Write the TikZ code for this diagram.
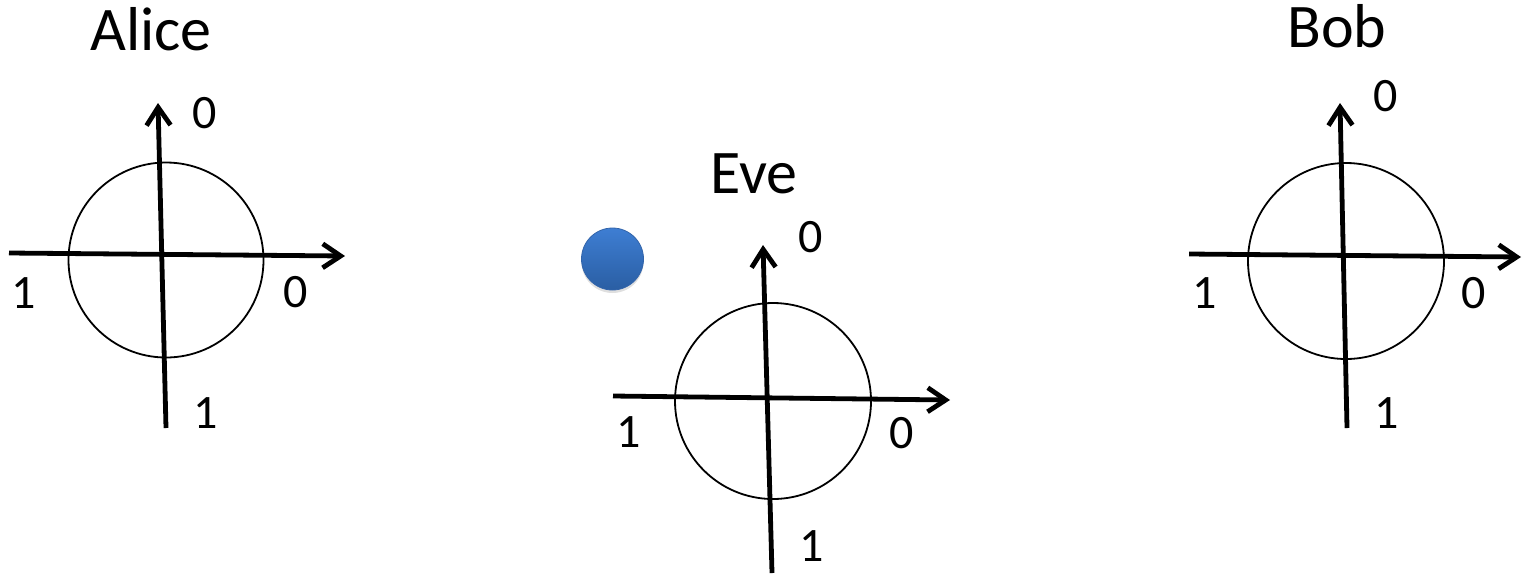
\documentclass[tikz,border=0pt]{standalone}
\usepackage{fontspec}
\setmainfont{Carlito}
\usetikzlibrary{arrows.meta,shadows}

\tikzset{
  axis/.style={line width=2.4pt,-{Straight Barb[length=9pt,width=12pt]}},
  ring/.style={line width=.9pt},
  who/.style={anchor=base,font=\fontsize{31}{36}\selectfont},
  bit/.style={inner sep=1pt,font=\fontsize{24}{28}\selectfont},
}

\begin{document}
\begin{tikzpicture}[x=.5pt,y=-.5pt]
 \useasboundingbox (0,0) rectangle (1524,574);
 % Alice
 \node[who] (alice) at (151,50) {Alice};
 \draw[ring] (166,260) circle (97.5);
 \coordinate (aW) at (9,253);   \coordinate (aE) at (345,256);
 \coordinate (aS) at (166,428); \coordinate (aN) at (158,103);
 \draw[axis] (aW)--(aE);
 \draw[axis] (aS)--(aN);
 \node[bit] (a0n) at (205,113) {0};
 \node[bit] (a1w) at (24,293) {1};
 \node[bit] (a0e) at (296,292) {0};
 \node[bit] (a1s) at (206,413) {1};
 % Eve
 \node[who] (eve) at (754,193) {Eve};
 \node[circle,minimum size=31pt,inner sep=0pt,top color={rgb,255:red,62;green,126;blue,211},
   bottom color={rgb,255:red,42;green,94;blue,163},draw={rgb,255:red,50;green,100;blue,170},
   drop shadow={shadow xshift=0pt,shadow yshift=-1.5pt,opacity=.25}] (photon) at (612.5,259) {};
 \draw[ring] (773,401) circle (98);
 \coordinate (eW) at (613,396); \coordinate (eE) at (950,400);
 \coordinate (eS) at (772,573); \coordinate (eN) at (763,245);
 \draw[axis] (eW)--(eE);
 \draw[axis] (eS)--(eN);
 \node[bit] (e0n) at (811,237) {0};
 \node[bit] (e1w) at (629,432) {1};
 \node[bit] (e0e) at (902,433) {0};
 \node[bit] (e1s) at (812,546) {1};
 % Bob
 \node[who] (bob) at (1337,47) {Bob};
 \draw[ring] (1346,261) circle (98);
 \coordinate (bW) at (1189,254);  \coordinate (bE) at (1521,257);
 \coordinate (bS) at (1347,428);  \coordinate (bN) at (1340,103);
 \draw[axis] (bW)--(bE);
 \draw[axis] (bS)--(bN);
 \node[bit] (b0n) at (1386,96) {0};
 \node[bit] (b1w) at (1205,293) {1};
 \node[bit] (b0e) at (1474,293) {0};
 \node[bit] (b1s) at (1387,413) {1};
\end{tikzpicture}
\end{document}
